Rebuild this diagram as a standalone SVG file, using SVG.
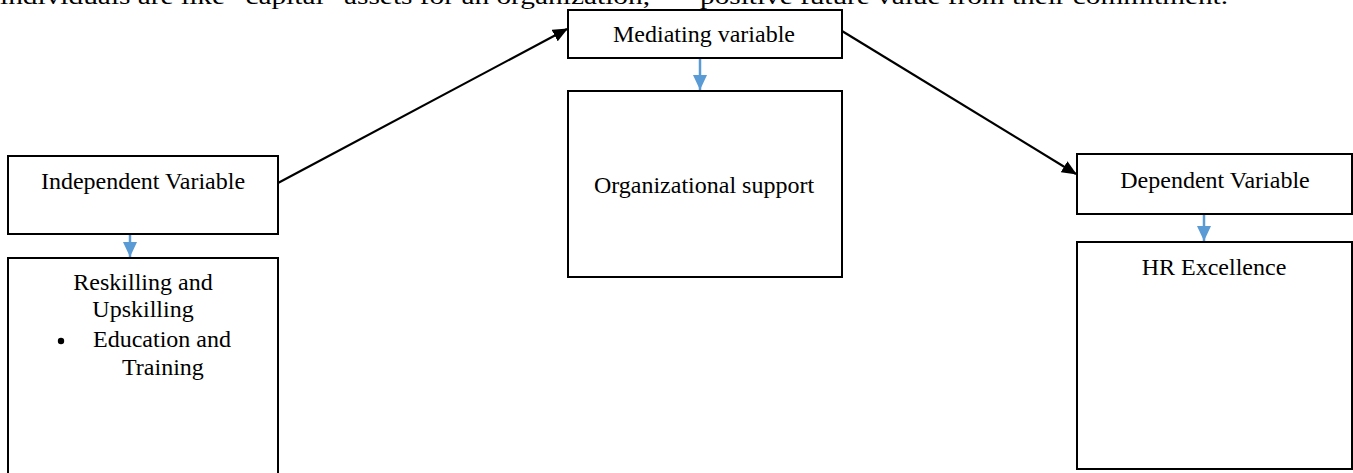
<svg xmlns="http://www.w3.org/2000/svg" width="1353" height="473" viewBox="0 0 1353 473">
<style>
  .box { fill: #ffffff; stroke: #000000; stroke-width: 2; }
  .t { font-family: "Liberation Serif", "Times New Roman", serif; font-size: 24px; fill: #000000; }
  .c { text-anchor: middle; }
  .conn { stroke: #000000; stroke-width: 2.2; fill: none; }
  .blue { stroke: #5b9bd5; stroke-width: 2.5; fill: none; }
</style>
<defs>
  <marker id="ah" markerWidth="15" markerHeight="13" refX="14" refY="6.5" orient="auto" markerUnits="userSpaceOnUse" viewBox="0 0 15 13">
    <path d="M0,0 L15,6.5 L0,13 z" fill="#000000"/>
  </marker>
  <marker id="bh" markerWidth="14" markerHeight="15" refX="7" refY="15" orient="0" markerUnits="userSpaceOnUse" viewBox="0 0 14 15">
    <path d="M0,0 L14,0 L7,15 z" fill="#5b9bd5"/>
  </marker>
</defs>

<text class="t" x="0" y="4" textLength="650" lengthAdjust="spacingAndGlyphs">individuals are like “capital” assets for an organization,</text>
<text class="t" x="700" y="4" textLength="528" lengthAdjust="spacingAndGlyphs">positive future value from their commitment.</text>

<g id="connectors">
  <line class="conn" x1="278" y1="183" x2="567" y2="29" marker-end="url(#ah)"/>
  <line class="conn" x1="842" y1="31" x2="1076" y2="174" marker-end="url(#ah)"/>
  <line class="blue" x1="130" y1="235" x2="130" y2="257" marker-end="url(#bh)"/>
  <line class="blue" x1="700" y1="59" x2="700" y2="90" marker-end="url(#bh)"/>
  <line class="blue" x1="1204" y1="215" x2="1204" y2="241" marker-end="url(#bh)"/>
</g>

<g id="independent">
  <rect class="box" x="8" y="156" width="270" height="78"/>
  <text class="t c" x="143" y="189">Independent Variable</text>
</g>

<g id="reskilling">
  <rect class="box" x="8" y="258" width="270" height="230"/>
  <text class="t c" x="143" y="290">Reskilling and</text>
  <text class="t c" x="143" y="317">Upskilling</text>
  <circle cx="61" cy="341" r="3.2" fill="#000000"/>
  <text class="t" x="93" y="347">Education and</text>
  <text class="t" x="122" y="375">Training</text>
</g>

<g id="mediating">
  <rect class="box" x="568" y="10" width="274" height="48"/>
  <text class="t c" x="704" y="42">Mediating variable</text>
</g>

<g id="organizational">
  <rect class="box" x="568" y="91" width="274" height="186"/>
  <text class="t c" x="704" y="193">Organizational support</text>
</g>

<g id="dependent">
  <rect class="box" x="1077" y="154" width="275" height="60"/>
  <text class="t c" x="1215" y="188">Dependent Variable</text>
</g>

<g id="hr">
  <rect class="box" x="1077" y="242" width="275" height="227"/>
  <text class="t c" x="1214" y="275">HR Excellence</text>
</g>
</svg>
